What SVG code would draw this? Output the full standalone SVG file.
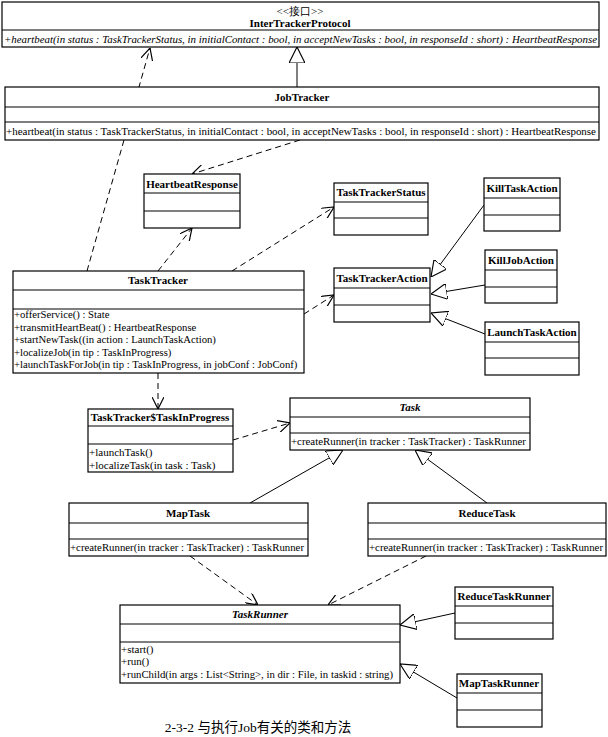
<svg xmlns="http://www.w3.org/2000/svg" width="608" height="737" viewBox="0 0 608 737">
<defs>
<marker id="open" markerUnits="userSpaceOnUse" markerWidth="12" markerHeight="12" refX="10" refY="5" orient="auto" viewBox="0 0 10 10">
<path d="M0,0 L10,5 L0,10" fill="none" stroke="#000" stroke-width="1"/>
</marker>
<marker id="tri" markerUnits="userSpaceOnUse" markerWidth="16" markerHeight="16" refX="14" refY="7" orient="auto" viewBox="0 0 14 14">
<path d="M0,0 L14,7 L0,14 z" fill="#fff" stroke="#000" stroke-width="1"/>
</marker>
<style>
.box{fill:#fff;stroke:#000;stroke-width:1.2}
.sep{stroke:#000;stroke-width:1.2}
text{font-family:"Liberation Serif","Times New Roman",serif;font-size:11px;fill:#000}
.t{font-weight:bold;text-anchor:middle}
.ti{font-weight:bold;font-style:italic;text-anchor:middle}
.st{text-anchor:middle}
.it{font-style:italic}
.m{font-size:10.7px}
.dep{fill:none;stroke:#000;stroke-width:1;stroke-dasharray:6,4;marker-end:url(#open)}
.gen{fill:none;stroke:#000;stroke-width:1;marker-end:url(#tri)}
.cap{font-family:"Liberation Serif","Noto Sans CJK SC",serif;font-size:13.5px;text-anchor:middle}
</style>
</defs>
<rect width="608" height="737" fill="#fff"/>

<g id="connectors">
<path class="gen" d="M297,87 L297,47"/>
<path class="dep" d="M87,271 L150,48"/>
<path class="dep" d="M300,140 L192,174"/>
<path class="dep" d="M158,271 L192,228"/>
<path class="dep" d="M232,271 L334,207"/>
<path class="dep" d="M304,314 L334,295"/>
<path class="gen" d="M484,205 L431,277"/>
<path class="gen" d="M485,285 L431,294"/>
<path class="gen" d="M485,334 L431,313"/>
<path class="dep" d="M158,373 L158,409"/>
<path class="dep" d="M233,440 L290,423"/>
<path class="gen" d="M250,503 L343,450"/>
<path class="gen" d="M487,503 L415,450"/>
<path class="dep" d="M190,556 L258,605"/>
<path class="dep" d="M426,556 L328,605"/>
<path class="gen" d="M455,613 L400,625"/>
<path class="gen" d="M457,698 L400,664"/>
</g>

<g id="InterTrackerProtocol">
<rect class="box" x="2" y="2" width="597" height="45"/>
<line class="sep" x1="2" y1="30" x2="599" y2="30"/>
<text class="st" x="300" y="15">&lt;&lt;接口&gt;&gt;</text>
<text class="t" x="300" y="27">InterTrackerProtocol</text>
<text class="it" x="4" y="43" textLength="593" lengthAdjust="spacingAndGlyphs">+heartbeat(in status : TaskTrackerStatus, in initialContact : bool, in acceptNewTasks : bool, in responseId : short) : HeartbeatResponse</text>
</g>

<g id="JobTracker">
<rect class="box" x="5" y="87" width="594" height="53"/>
<line class="sep" x1="5" y1="107" x2="599" y2="107"/>
<line class="sep" x1="5" y1="122" x2="599" y2="122"/>
<text class="t" x="302" y="101">JobTracker</text>
<text x="6" y="135" textLength="590" lengthAdjust="spacingAndGlyphs">+heartbeat(in status : TaskTrackerStatus, in initialContact : bool, in acceptNewTasks : bool, in responseId : short) : HeartbeatResponse</text>
</g>

<g id="HeartbeatResponse">
<rect class="box" x="144" y="174" width="96" height="54"/>
<line class="sep" x1="144" y1="193" x2="240" y2="193"/>
<line class="sep" x1="144" y1="211" x2="240" y2="211"/>
<text class="t" x="192" y="188">HeartbeatResponse</text>
</g>

<g id="TaskTrackerStatus">
<rect class="box" x="334" y="183" width="94" height="52"/>
<line class="sep" x1="334" y1="202" x2="428" y2="202"/>
<line class="sep" x1="334" y1="218" x2="428" y2="218"/>
<text class="t" x="381" y="196">TaskTrackerStatus</text>
</g>

<g id="KillTaskAction">
<rect class="box" x="484" y="178" width="76" height="53"/>
<line class="sep" x1="484" y1="198" x2="560" y2="198"/>
<line class="sep" x1="484" y1="215" x2="560" y2="215"/>
<text class="t" x="522" y="192">KillTaskAction</text>
</g>

<g id="KillJobAction">
<rect class="box" x="485" y="250" width="72" height="53"/>
<line class="sep" x1="485" y1="270" x2="557" y2="270"/>
<line class="sep" x1="485" y1="287" x2="557" y2="287"/>
<text class="t" x="521" y="264">KillJobAction</text>
</g>

<g id="LaunchTaskAction">
<rect class="box" x="485" y="322" width="94" height="53"/>
<line class="sep" x1="485" y1="342" x2="579" y2="342"/>
<line class="sep" x1="485" y1="358" x2="579" y2="358"/>
<text class="t" x="532" y="336">LaunchTaskAction</text>
</g>

<g id="TaskTrackerAction">
<rect class="box" x="334" y="268" width="96" height="54"/>
<line class="sep" x1="334" y1="288" x2="430" y2="288"/>
<line class="sep" x1="334" y1="305" x2="430" y2="305"/>
<text class="t" x="382" y="282">TaskTrackerAction</text>
</g>

<g id="TaskTracker">
<rect class="box" x="13" y="271" width="291" height="102"/>
<line class="sep" x1="13" y1="290" x2="304" y2="290"/>
<line class="sep" x1="13" y1="309" x2="304" y2="309"/>
<text class="t" x="158" y="284">TaskTracker</text>
<text class="m" x="14" y="318">+offerService() : State</text>
<text class="m" x="14" y="330.5">+transmitHeartBeat() : HeartbeatResponse</text>
<text class="m" x="14" y="343">+startNewTask((in action : LaunchTaskAction)</text>
<text class="m" x="14" y="355.5">+localizeJob(in tip : TaskInProgress)</text>
<text class="m" x="14" y="368">+launchTaskForJob(in tip : TaskInProgress, in jobConf : JobConf)</text>
</g>

<g id="TaskTrackerTaskInProgress">
<rect class="box" x="88" y="409" width="145" height="63"/>
<line class="sep" x1="88" y1="426" x2="233" y2="426"/>
<line class="sep" x1="88" y1="444" x2="233" y2="444"/>
<text class="t" x="160" y="421">TaskTracker$TaskInProgress</text>
<text x="89" y="456">+launchTask()</text>
<text x="89" y="469">+localizeTask(in task : Task)</text>
</g>

<g id="Task">
<rect class="box" x="290" y="398" width="240" height="52"/>
<line class="sep" x1="290" y1="417" x2="530" y2="417"/>
<line class="sep" x1="290" y1="433" x2="530" y2="433"/>
<text class="ti" x="410" y="411">Task</text>
<text x="291" y="445" textLength="235" lengthAdjust="spacingAndGlyphs">+createRunner(in tracker : TaskTracker) : TaskRunner</text>
</g>

<g id="MapTask">
<rect class="box" x="69" y="503" width="239" height="53"/>
<line class="sep" x1="69" y1="523" x2="308" y2="523"/>
<line class="sep" x1="69" y1="539" x2="308" y2="539"/>
<text class="t" x="188" y="517">MapTask</text>
<text x="70" y="551" textLength="234" lengthAdjust="spacingAndGlyphs">+createRunner(in tracker : TaskTracker) : TaskRunner</text>
</g>

<g id="ReduceTask">
<rect class="box" x="368" y="503" width="238" height="53"/>
<line class="sep" x1="368" y1="523" x2="606" y2="523"/>
<line class="sep" x1="368" y1="539" x2="606" y2="539"/>
<text class="t" x="487" y="517">ReduceTask</text>
<text x="369" y="551" textLength="234" lengthAdjust="spacingAndGlyphs">+createRunner(in tracker : TaskTracker) : TaskRunner</text>
</g>

<g id="TaskRunner">
<rect class="box" x="120" y="605" width="280" height="78"/>
<line class="sep" x1="120" y1="624" x2="400" y2="624"/>
<line class="sep" x1="120" y1="642" x2="400" y2="642"/>
<text class="ti" x="260" y="618">TaskRunner</text>
<text x="121" y="653">+start()</text>
<text x="121" y="665">+run()</text>
<text x="121" y="678" textLength="272" lengthAdjust="spacingAndGlyphs">+runChild(in args : List&lt;String&gt;, in dir : File, in taskid : string)</text>
</g>

<g id="ReduceTaskRunner">
<rect class="box" x="455" y="587" width="98" height="52"/>
<line class="sep" x1="455" y1="606" x2="553" y2="606"/>
<line class="sep" x1="455" y1="623" x2="553" y2="623"/>
<text class="t" x="504" y="600">ReduceTaskRunner</text>
</g>

<g id="MapTaskRunner">
<rect class="box" x="457" y="674" width="85" height="53"/>
<line class="sep" x1="457" y1="693" x2="542" y2="693"/>
<line class="sep" x1="457" y1="710" x2="542" y2="710"/>
<text class="t" x="499" y="687">MapTaskRunner</text>
</g>

<text class="cap" x="258" y="732">2-3-2 与执行Job有关的类和方法</text>
</svg>
